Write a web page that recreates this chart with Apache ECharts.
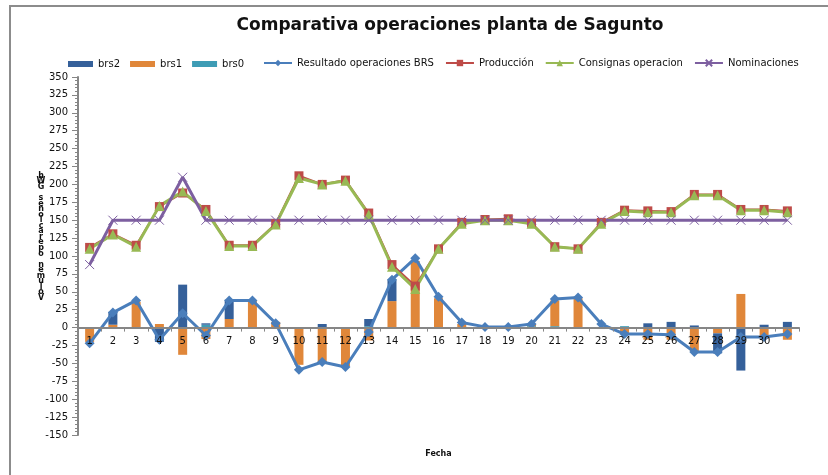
<!DOCTYPE html>
<html>
<head>
<meta charset="utf-8">
<script src="https://cdn.jsdelivr.net/npm/echarts@6/dist/echarts.min.js"></script>
<style>
  html, body { margin: 0; padding: 0; background: #fff; }
  #chart { width: 828px; height: 475px; }
</style>
</head>
<body>
<div id="chart"></div>
<script>
// categorias (dias)
var dias = ['1','2','3','4','5','6','7','8','9','10','11','12','13','14','15','16','17','18','19','20','21','22','23','24','25','26','27','28','29','30',''];

// barras apiladas
var brs2 = [0,18,0,-20,60,2,27,0,0,0,5,0,10,30,0,0,0,0,0,0,0,0,0,0,6,8,3,-28,-60,4,8];
var brs1 = [-20,4,36,5,-38,-16,12,37,8,-52,-50,-54,-18,37,93,41,5,0,0,3,36,41,-2,-9,-17,-17,-33,-8,47,-16,-17];
var brs0 = [0,0,0,0,0,4,0,0,0,0,0,0,2,0,0,0,0,0,0,2,2,0,0,2,0,0,0,0,0,0,0];

// lineas
var resultado = [-22,21,38,-17,20,-11,38,38,6,-59,-48,-55,-6,67,97,43,7,1,1,5,40,42,5,-9,-9,-10,-34,-34,-13,-13,-9];
var produccion = [112,131,115,169,188,165,115,115,145,212,200,206,160,88,58,110,147,151,152,146,113,110,147,164,163,162,186,186,165,165,163];
var consignas = [110,130,113,170,190,163,114,114,144,209,200,205,158,85,54,110,145,150,150,145,113,110,145,163,161,161,185,185,164,164,161];
var nominaciones = [88,150,150,150,210,150,150,150,150,150,150,150,150,150,150,150,150,150,150,150,150,150,150,150,150,150,150,150,150,150,150];

var tituloEjeY = 'Volumen operaciones GWh';

var font = 'DejaVu Sans';
var gris = '#868686';

// eje y: -150..350 en 358 px -> el eje x va en el cero
var yMin = -150, yMax = 350;
var altoGrid = 475 - 77 - 40;
var desplazamientoCero = -altoGrid * (0 - yMin) / (yMax - yMin);

// texto vertical apilado (como en el original)
var ejeYTexto = tituloEjeY.split('').reverse().join('\n');

var chart = echarts.init(document.getElementById('chart'));
chart.setOption({
  animation: false,
  backgroundColor: '#fff',
  title: {
    text: 'Comparativa operaciones planta de Sagunto',
    left: 445,
    top: 12,
    textAlign: 'center',
    textStyle: { fontFamily: font, fontSize: 17, fontWeight: 'bold', color: '#111' }
  },
  graphic: [
    {
      type: 'rect', silent: true, z: -1,
      shape: { x: 10, y: 6, width: 900, height: 600 },
      style: { fill: 'none', stroke: '#8c8c8c', lineWidth: 2 }
    },
    {
      type: 'text', silent: true,
      x: 41, y: 173,
      style: {
        text: ejeYTexto, fontFamily: font, fontSize: 8, fontWeight: 'bold',
        lineHeight: 5.55, textAlign: 'center', fill: '#111'
      }
    }
  ],
  legend: [
    {
      data: ['brs2', 'brs1', 'brs0'],
      left: 63, top: 54,
      itemWidth: 25, itemHeight: 6, itemGap: 10,
      icon: 'rect',
      textStyle: { fontFamily: font, fontSize: 10, color: '#111' }
    },
    {
      data: ['Resultado operaciones BRS', 'Producción', 'Consignas operacion', 'Nominaciones'],
      left: 258, top: 53,
      itemWidth: 28, itemHeight: 8, itemGap: 11,
      textStyle: { fontFamily: font, fontSize: 10, color: '#111' }
    }
  ],
  grid: { left: 78, right: 29, top: 77, bottom: 40, containLabel: false, outerBoundsMode: 'none' },
  xAxis: {
    type: 'category',
    data: dias,
    position: 'bottom',
    offset: desplazamientoCero,
    z: 5,
    name: 'Fecha',
    nameLocation: 'middle',
    nameGap: 122,
    nameTextStyle: { fontFamily: font, fontSize: 8, fontWeight: 'bold', color: '#111' },
    axisLine: { onZero: false, lineStyle: { color: gris, width: 2 } },
    axisTick: { show: true, length: 4, lineStyle: { color: gris } },
    axisLabel: { interval: 0, margin: 9, fontFamily: font, fontSize: 10, color: '#111' }
  },
  yAxis: {
    type: 'value',
    min: yMin, max: yMax, interval: 25,
    axisLine: { show: true, lineStyle: { color: gris, width: 2 } },
    axisTick: { show: true, length: 6, lineStyle: { color: gris } },
    minorTick: { show: true, splitNumber: 5, length: 3, lineStyle: { color: gris } },
    splitLine: { show: false },
    axisLabel: { margin: 10, fontFamily: font, fontSize: 10, color: '#111' }
  },
  series: [
    { name: 'brs0', type: 'bar', stack: 'brs', data: brs0, barWidth: 9, itemStyle: { color: '#3e9cb5' } },
    { name: 'brs1', type: 'bar', stack: 'brs', data: brs1, barWidth: 9, itemStyle: { color: '#e0873a' } },
    { name: 'brs2', type: 'bar', stack: 'brs', data: brs2, barWidth: 9, itemStyle: { color: '#35609a' } },
    {
      name: 'Resultado operaciones BRS', type: 'line', data: resultado,
      symbol: 'diamond', symbolSize: 10,
      lineStyle: { color: '#4a7ebb', width: 3 },
      itemStyle: { color: '#4a7ebb' }
    },
    {
      name: 'Producción', type: 'line', data: produccion,
      symbol: 'rect', symbolSize: 9,
      lineStyle: { color: '#be4b48', width: 2 },
      itemStyle: { color: '#be4b48' }
    },
    {
      name: 'Consignas operacion', type: 'line', data: consignas,
      symbol: 'triangle', symbolSize: 10,
      lineStyle: { color: '#98b954', width: 3 },
      itemStyle: { color: '#98b954' }
    },
    {
      name: 'Nominaciones', type: 'line', data: nominaciones,
      symbol: 'path://M0,0L10,10M10,0L0,10', symbolSize: 9,
      lineStyle: { color: '#7d5fa0', width: 3 },
      itemStyle: { color: '#7d5fa0', borderColor: '#7d5fa0', borderWidth: 1 }
    }
  ]
});
</script>
</body>
</html>
